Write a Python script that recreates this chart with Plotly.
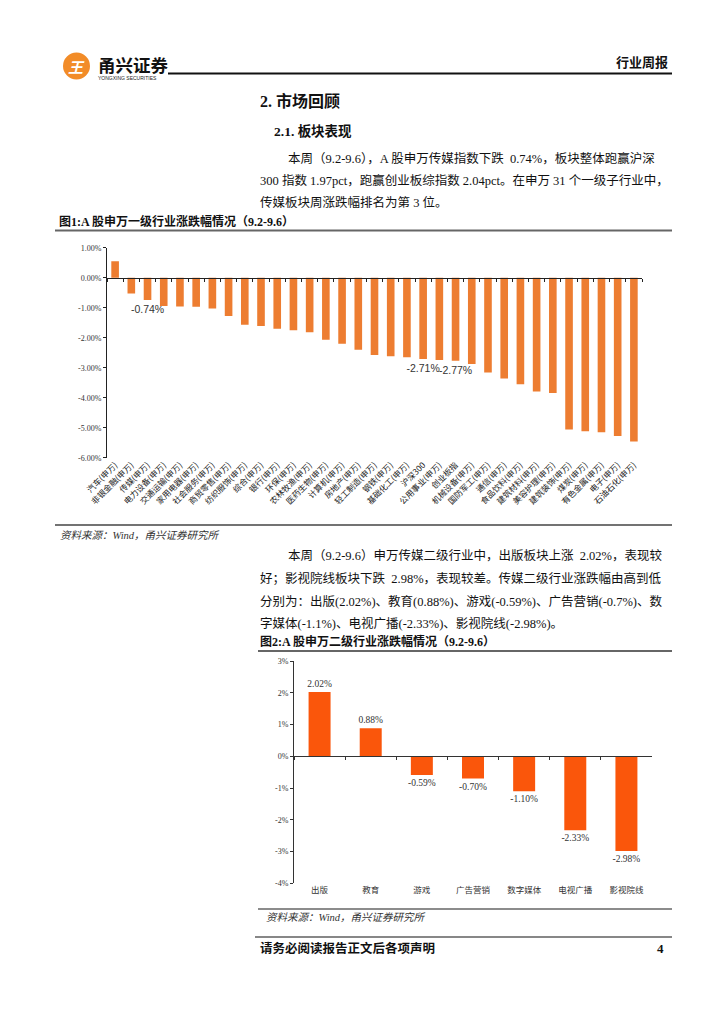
import plotly.graph_objects as go

W, H = 724, 1024
OFF = 8  # page body margin of the browser

# ---------------- data ----------------
cat1 = ["汽车(申万)", "非银金融(申万)", "传媒(申万)", "电力设备(申万)", "交通运输(申万)",
        "家用电器(申万)", "社会服务(申万)", "商贸零售(申万)", "纺织服饰(申万)", "综合(申万)",
        "银行(申万)", "环保(申万)", "农林牧渔(申万)", "医药生物(申万)", "计算机(申万)",
        "房地产(申万)", "轻工制造(申万)", "钢铁(申万)", "基础化工(申万)", "沪深300",
        "公用事业(申万)", "创业板指", "机械设备(申万)", "国防军工(申万)", "通信(申万)",
        "食品饮料(申万)", "建筑材料(申万)", "美容护理(申万)", "建筑装饰(申万)", "煤炭(申万)",
        "有色金属(申万)", "电子(申万)", "石油石化(申万)"]
val1 = [0.55, -0.53, -0.74, -0.94, -0.96, -0.97, -1.03, -1.28, -1.57, -1.61,
        -1.70, -1.75, -1.82, -2.07, -2.20, -2.40, -2.58, -2.62, -2.65, -2.71,
        -2.74, -2.77, -2.88, -3.16, -3.36, -3.55, -3.79, -3.84, -5.06, -5.12,
        -5.15, -5.28, -5.46]
labeled1 = ["传媒(申万)", "沪深300", "创业板指"]
y1_ticks = [1, 0, -1, -2, -3, -4, -5, -6]
y1_ticktext = ["1.00%", "0.00%", "-1.00%", "-2.00%", "-3.00%", "-4.00%", "-5.00%", "-6.00%"]

cat2 = ["出版", "教育", "游戏", "广告营销", "数字媒体", "电视广播", "影视院线"]
val2 = [2.02, 0.88, -0.59, -0.70, -1.10, -2.33, -2.98]
y2_ticks = [3, 2, 1, 0, -1, -2, -3, -4]
y2_ticktext = ["3%", "2%", "1%", "0%", "-1%", "-2%", "-3%", "-4%"]

# ---------------- layout helpers ----------------
def px(x):
    return (x - OFF) / W

def py(y):
    return 1 - (y - OFF) / H

SERIF = "Liberation Serif, Noto Sans CJK SC"
CJK = "Noto Sans CJK SC"

# chart 1 geometry
d1x = [px(107), px(642)]
d1y = [py(457.7), py(247.7)]
r1 = [min(y1_ticks), max(y1_ticks)]
zero1 = d1y[0] + (0 - r1[0]) / (r1[1] - r1[0]) * (d1y[1] - d1y[0])

# chart 2 geometry
d2x = [px(294), px(652)]
d2y = [py(883.3), py(661)]
r2 = [min(y2_ticks), max(y2_ticks)]
zero2 = d2y[0] + (0 - r2[0]) / (r2[1] - r2[0]) * (d2y[1] - d2y[0])

fig = go.Figure()

text1 = [f"{v:.2f}%" if c in labeled1 else "" for c, v in zip(cat1, val1)]
fig.add_trace(go.Bar(
    x=cat1, y=val1, xaxis="x", yaxis="y", width=0.47,
    marker=dict(color="#ED7D31", line=dict(width=0)),
    text=text1, textposition="outside", cliponaxis=False, constraintext="none",
    textfont=dict(family="Liberation Sans, Arial", size=10.5, color="#333333"),
    hoverinfo="skip", showlegend=False))
fig.add_trace(go.Scatter(
    x=cat1, y=[0] * len(cat1), xaxis="x2", yaxis="y", mode="markers",
    marker=dict(opacity=0), hoverinfo="skip", showlegend=False))

text2 = [f"{v:.2f}%" for v in val2]
fig.add_trace(go.Bar(
    x=cat2, y=val2, xaxis="x3", yaxis="y3", width=0.43,
    marker=dict(color="#FA560B", line=dict(width=0)),
    text=text2, textposition="outside", cliponaxis=False, constraintext="none",
    textfont=dict(family=SERIF, size=9.5, color="#333333"),
    hoverinfo="skip", showlegend=False))
fig.add_trace(go.Scatter(
    x=cat2, y=[0] * len(cat2), xaxis="x4", yaxis="y3", mode="markers",
    marker=dict(opacity=0), hoverinfo="skip", showlegend=False))

n1, n2 = len(cat1), len(cat2)
fig.update_layout(
    template="none",
    width=W, height=H, margin=dict(l=0, r=0, t=0, b=0, pad=0, autoexpand=False),
    paper_bgcolor="white", plot_bgcolor="rgba(0,0,0,0)",
    xaxis=dict(domain=d1x, anchor="y", type="category", range=[-0.5, n1 - 0.5],
               showline=False, ticks="", showgrid=False, tickangle=-45, automargin=False,
               tickfont=dict(family=CJK, size=8.3, color="#222222")),
    xaxis2=dict(domain=d1x, overlaying="x", anchor="free", position=zero1,
                type="category", range=[-0.5, n1 - 0.5], showline=True,
                linecolor="#222222", linewidth=1, ticks="outside", ticklen=3,
                tickcolor="#222222", tickson="boundaries", showticklabels=False,
                showgrid=False, automargin=False),
    yaxis=dict(domain=d1y, anchor="x", range=r1, tickvals=y1_ticks, ticktext=y1_ticktext,
               showline=True, linecolor="#222222", linewidth=1, ticks="outside",
               ticklen=3, tickcolor="#222222", showgrid=False, zeroline=False,
               automargin=False,
               tickfont=dict(family=SERIF, size=8, color="#333333")),
    xaxis3=dict(domain=d2x, anchor="y3", type="category", range=[-0.5, n2 - 0.5],
                showline=False, ticks="", showgrid=False, tickangle=0, automargin=False,
                tickfont=dict(family=CJK, size=8.5, color="#333333")),
    xaxis4=dict(domain=d2x, overlaying="x3", anchor="free", position=zero2,
                type="category", range=[-0.5, n2 - 0.5], showline=True,
                linecolor="#333333", linewidth=1, ticks="outside", ticklen=3,
                tickcolor="#333333", tickson="boundaries", showticklabels=False,
                showgrid=False, automargin=False),
    yaxis3=dict(domain=d2y, anchor="x3", range=r2, tickvals=y2_ticks, ticktext=y2_ticktext,
                showline=True, linecolor="#333333", linewidth=1, ticks="outside",
                ticklen=3, tickcolor="#333333", showgrid=False, zeroline=False,
                automargin=False,
                tickfont=dict(family=SERIF, size=8, color="#333333")),
)

annotations = []

def txt(x, y, t, size, color="#111111", family=SERIF, xanchor="left"):
    annotations.append(dict(x=px(x), y=py(y), xref="paper", yref="paper", text=t,
                            showarrow=False, xanchor=xanchor, yanchor="middle",
                            font=dict(family=family, size=size, color=color)))

# header
txt(96, 64, "<b>甬兴证券</b>", 17.5, "#111111", CJK)
txt(96, 78, "YONGXING SECURITIES", 5, "#222222", "Liberation Sans")
txt(76, 66, "<b><i>王</i></b>", 15, "white", CJK, xanchor="center")
txt(670, 61, "<b>行业周报</b>", 13, "#111111", CJK, xanchor="right")

# section headings
txt(258, 101, "<b>2. 市场回顾</b>", 16)
txt(272, 131, "<b>2.1. 板块表现</b>", 13.5)

# paragraph 1
txt(286, 158, "本周（9.2-9.6），A 股申万传媒指数下跌  0.74%，板块整体跑赢沪深", 12.5)
txt(258, 180, "300 指数 1.97pct，跑赢创业板综指数 2.04pct。在申万 31 个一级子行业中，", 12.5)
txt(258, 202, "传媒板块周涨跌幅排名为第 3 位。", 12.5)

# figure 1 title and source
txt(57, 221, "<b>图1:A 股申万一级行业涨跌幅情况（9.2-9.6）</b>", 12)
txt(58, 535, "<i>资料来源：Wind，甬兴证券研究所</i>", 10.5, "#333333")

# paragraph 2
txt(286, 555, "本周（9.2-9.6）申万传媒二级行业中，出版板块上涨  2.02%，表现较", 12.5)
txt(258, 578, "好；影视院线板块下跌  2.98%，表现较差。传媒二级行业涨跌幅由高到低", 12.5)
txt(258, 601, "分别为：出版(2.02%)、教育(0.88%)、游戏(-0.59%)、广告营销(-0.7%)、数", 12.5)
txt(258, 623, "字媒体(-1.1%)、电视广播(-2.33%)、影视院线(-2.98%)。", 12.5)

# figure 2 title and source
txt(258, 641, "<b>图2:A 股申万二级行业涨跌幅情况（9.2-9.6）</b>", 12)
txt(264, 917, "<i>资料来源：Wind，甬兴证券研究所</i>", 10.5, "#333333")

# footer
txt(258, 948, "<b>请务必阅读报告正文后各项声明</b>", 12.5)
txt(666, 948, "<b>4</b>", 13, xanchor="right")

fig.update_layout(annotations=annotations)

def hline(x0, x1, y, color, w):
    return dict(type="line", xref="paper", yref="paper", x0=px(x0), x1=px(x1),
                y0=py(y), y1=py(y), line=dict(color=color, width=w))

shapes = [
    dict(type="circle", xref="paper", yref="paper", x0=px(63), x1=px(90),
         y0=py(79.5), y1=py(52.5), fillcolor="#F28C28", line=dict(width=0), layer="below"),
    hline(168, 672, 73.5, "#111111", 2),
    hline(55, 672, 230.5, "#666666", 1.8),
    hline(55, 672, 525, "#444444", 1.5),
    hline(258, 672, 651, "#666666", 1.8),
    hline(258, 672, 909, "#666666", 1.5),
    hline(255, 672, 937, "#111111", 1.2),
]
fig.update_layout(shapes=shapes)

fig.write_html("out.html")
